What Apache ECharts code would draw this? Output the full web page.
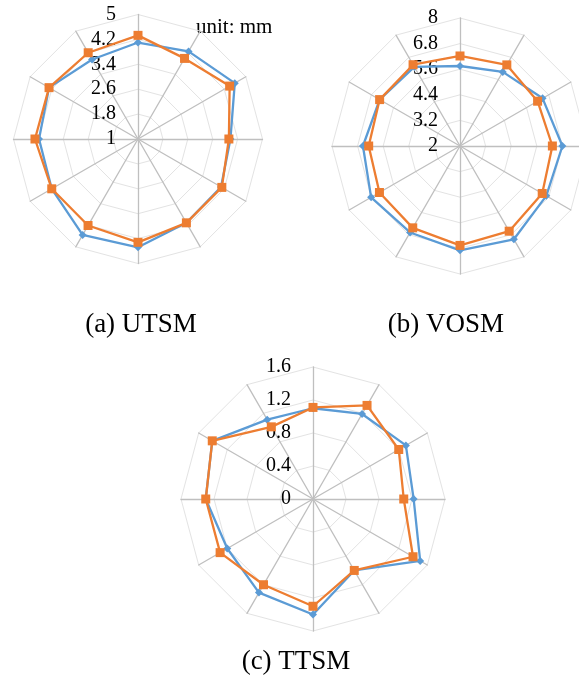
<!DOCTYPE html>
<html>
<head>
<meta charset="utf-8">
<script src="https://cdn.jsdelivr.net/npm/echarts@6/dist/echarts.min.js"></script>
<style>
html,body{margin:0;padding:0;background:#fff;}
#chart{width:579px;height:688px;}
</style>
</head>
<body>
<div id="chart"></div>
<script>
// 12 spokes, listed clockwise starting from the top spoke
const spokes = ['1','2','3','4','5','6','7','8','9','10','11','12'];

const utsmBlue   = [4.10, 4.25, 4.59, 3.97, 4.08, 4.11, 4.48, 4.56, 4.20, 4.18, 4.30, 3.95];
const utsmOrange = [4.33, 3.99, 4.40, 3.92, 4.11, 4.11, 4.32, 4.21, 4.20, 4.31, 4.30, 4.20];

const vosmBlue   = [5.75, 6.01, 6.47, 6.80, 6.67, 7.05, 6.89, 6.68, 6.81, 6.55, 6.35, 6.28];
const vosmOrange = [6.22, 6.39, 6.20, 6.33, 6.45, 6.61, 6.66, 6.43, 6.36, 6.28, 6.35, 6.40];

const ttsmBlue   = [1.10, 1.19, 1.30, 1.22, 1.50, 1.00, 1.40, 1.31, 1.20, 1.30, 1.41, 1.11];
const ttsmOrange = [1.11, 1.31, 1.20, 1.10, 1.40, 1.00, 1.30, 1.20, 1.30, 1.30, 1.41, 1.01];

const utsmAxis = {min: 1, max: 5, splits: 5};
const vosmAxis = {min: 2, max: 8, splits: 5};
const ttsmAxis = {min: 0, max: 1.6, splits: 4};

const panelTitles = ['(a) UTSM', '(b) VOSM', '(c) TTSM'];
const unitText = 'unit: mm';

// ECharts places radar indicators anticlockwise; reorder so data reads clockwise
function cw(arr) { return [arr[0]].concat(arr.slice(1).reverse()); }

const FONT = 'Liberation Serif';
const BLUE = '#5B9BD5', ORANGE = '#ED7D31';

function makeRadar(axis, center, radius) {
  const names = cw(spokes);
  return {
    center: center,
    radius: radius,
    startAngle: 90,
    shape: 'polygon',
    splitNumber: axis.splits,
    axisName: {show: false},
    indicator: names.map((n, i) => {
      const ind = {name: '', min: axis.min, max: axis.max};
      if (i === 0) ind.axisLabel = {show: true};
      return ind;
    }),
    axisLine: {show: true, lineStyle: {color: '#BFBFBF', width: 1.3}},
    axisTick: {show: false},
    axisLabel: {show: false, color: '#000', fontFamily: FONT, fontSize: 20, margin: 22},
    splitLine: {show: true, lineStyle: {color: '#E3E3E3', width: 1}},
    splitArea: {show: false}
  };
}

function makeSeries(idx, blue, orange) {
  return {
    type: 'radar',
    radarIndex: idx,
    silent: true,
    data: [
      {value: cw(blue), symbol: 'diamond', symbolSize: 8,
       lineStyle: {color: BLUE, width: 2.3}, itemStyle: {color: BLUE}},
      {value: cw(orange), symbol: 'rect', symbolSize: 9,
       lineStyle: {color: ORANGE, width: 2.3}, itemStyle: {color: ORANGE}}
    ]
  };
}

const chart = echarts.init(document.getElementById('chart'), null, {renderer: 'canvas'});
chart.setOption({
  backgroundColor: '#fff',
  animation: false,
  radar: [
    makeRadar(utsmAxis, [138, 139], 124.5),
    makeRadar(vosmAxis, [460, 146], 128),
    makeRadar(ttsmAxis, [313, 499], 132)
  ],
  series: [
    makeSeries(0, utsmBlue, utsmOrange),
    makeSeries(1, vosmBlue, vosmOrange),
    makeSeries(2, ttsmBlue, ttsmOrange)
  ],
  graphic: [
    {type: 'text', x: 196, y: 27, style: {text: unitText, font: '21px "' + FONT + '"', fill: '#000', textAlign: 'left', textVerticalAlign: 'middle'}},
    {type: 'text', x: 141, y: 325, style: {text: panelTitles[0], font: '27px "' + FONT + '"', fill: '#000', textAlign: 'center', textVerticalAlign: 'middle'}},
    {type: 'text', x: 446, y: 325, style: {text: panelTitles[1], font: '27px "' + FONT + '"', fill: '#000', textAlign: 'center', textVerticalAlign: 'middle'}},
    {type: 'text', x: 296, y: 662, style: {text: panelTitles[2], font: '27px "' + FONT + '"', fill: '#000', textAlign: 'center', textVerticalAlign: 'middle'}}
  ]
});
</script>
</body>
</html>
